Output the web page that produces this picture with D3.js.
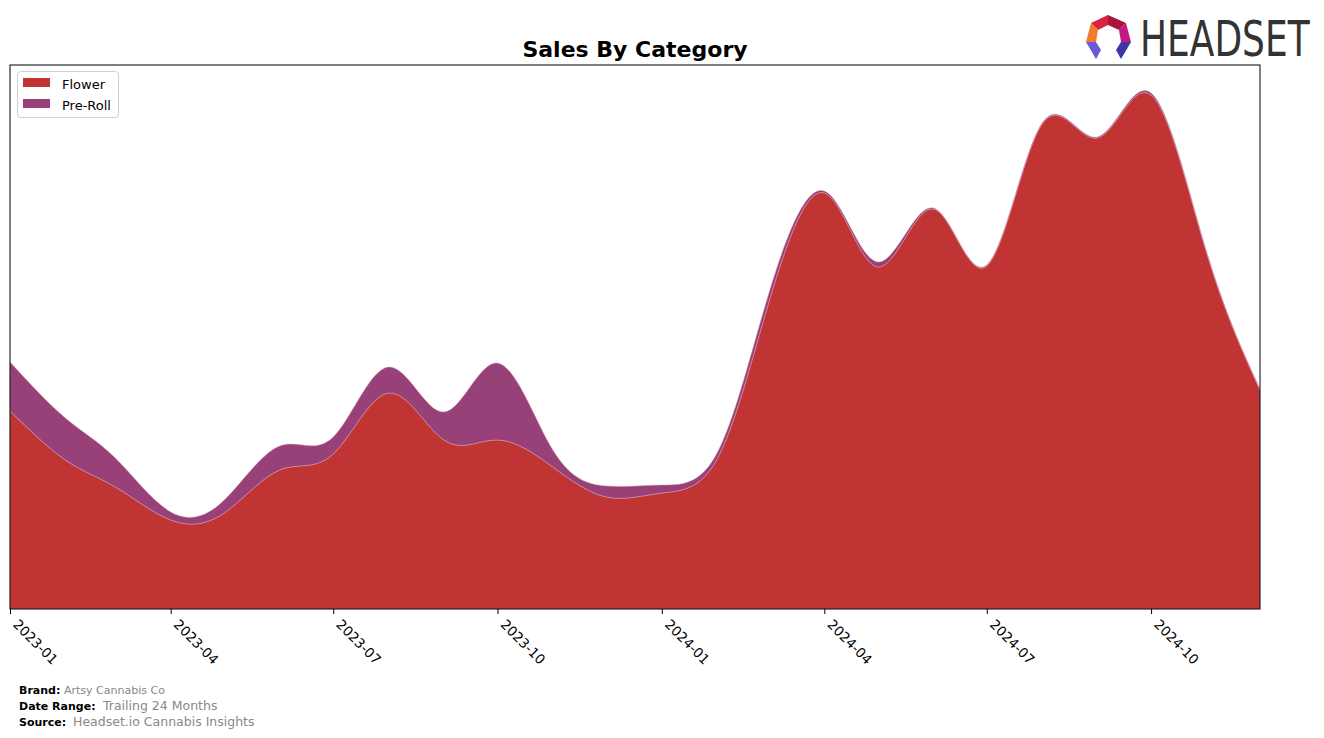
<!DOCTYPE html>
<html><head><meta charset="utf-8">
<script src="https://cdn.jsdelivr.net/npm/d3@7"></script>
<style>body{margin:0;background:#fff;} svg{display:block;font-family:"DejaVu Sans",sans-serif;}</style>
</head><body>
<svg id="chart" width="1324" height="738"></svg>
<script>
const months = ["2023-01","2023-02","2023-03","2023-04","2023-05","2023-06","2023-07","2023-08","2023-09","2023-10","2023-11","2023-12",
                "2024-01","2024-02","2024-03","2024-04","2024-05","2024-06","2024-07","2024-08","2024-09","2024-10","2024-11","2024-12"];
const flower = [198,149,122,89,96,139,155,216,169,169,142,112,116,150,307,416,342,400,343,485,471,514,357,219];
const preRoll = [49,42,29,8,13,24,17,26,28,77,17,11,8,6,9,2,5,1,1,1,1,2,1,1];
const seriesNames = ["Flower","Pre-Roll"];
const tickLabels = ["2023-01","2023-04","2023-07","2023-10","2024-01","2024-04","2024-07","2024-10"];
const colors = ["#c13434","#984179"];

const svg = d3.select("#chart");
const L = 10, R = 1260, T = 65, B = 609;
const parse = d3.timeParse("%Y-%m");
const rows = months.map((m,i)=>({date:parse(m), "Flower":flower[i], "Pre-Roll":preRoll[i]}));

const x = d3.scaleTime().domain([parse(months[0]), parse(months[months.length-1])]).range([L,R]);
const y = d3.scaleLinear().domain([0,544]).range([B,T]);

const stack = d3.stack().keys(seriesNames);
const layers = stack(rows);
const area = d3.area().x(d=>x(d.data.date)).y0(d=>y(d[0])).y1(d=>y(d[1])).curve(d3.curveNatural);

svg.append("defs").append("clipPath").attr("id","clip").append("rect").attr("x",L).attr("y",T).attr("width",R-L).attr("height",B-T);
const g = svg.append("g").attr("clip-path","url(#clip)");
g.selectAll("path").data(layers).join("path")
  .attr("d",area).attr("fill",(d,i)=>colors[i])
  .attr("stroke","#d9a0b0").attr("stroke-width",0.6).attr("stroke-opacity",0.8);

// frame
svg.append("rect").attr("x",L).attr("y",T).attr("width",R-L).attr("height",B-T)
  .attr("fill","none").attr("stroke","#000").attr("stroke-width",1);

// x axis
const ax = svg.append("g").attr("transform",`translate(0,${B})`)
  .call(d3.axisBottom(x).tickValues(tickLabels.map(parse)).tickFormat(d3.timeFormat("%Y-%m")).tickSize(5).tickSizeOuter(0));
ax.select(".domain").remove();
ax.selectAll("line").attr("stroke","#000");
ax.selectAll("text").attr("font-size",13.5).attr("font-family","DejaVu Sans").attr("fill","#000")
  .attr("text-anchor","start").attr("dy",null).attr("y",null)
  .attr("transform","translate(5,13) rotate(45)").attr("dy","0.35em");

// title
svg.append("text").attr("x",635).attr("y",57).attr("text-anchor","middle")
  .attr("font-size",22).attr("font-weight","bold").text("Sales By Category");

// legend
const lg = svg.append("g");
lg.append("rect").attr("x",17.5).attr("y",71.5).attr("width",101).attr("height",46).attr("rx",3)
  .attr("fill","#fff").attr("stroke","#d0d0d0");
seriesNames.forEach((n,i)=>{
  lg.append("rect").attr("x",23).attr("y",78+i*21).attr("width",27).attr("height",9).attr("fill",colors[i]);
  lg.append("text").attr("x",62).attr("y",89+i*21).attr("font-size",13).text(n);
});

// footer
const foot = [["Brand:","Artsy Cannabis Co",64,11],["Date Range:","Trailing 24 Months",103,12.5],["Source:","Headset.io Cannabis Insights",73,12.5]];
foot.forEach((f,i)=>{
  const yy = 694 + i*16;
  svg.append("text").attr("x",19).attr("y",yy).attr("font-size",11).attr("font-weight","bold").text(f[0]);
  svg.append("text").attr("x",f[2]).attr("y",yy).attr("font-size",f[3]).attr("fill","#888").text(f[1]);
});

// logo
const logo = svg.append("g");
const polys = [
  ["#d8223f",[[1091,23],[1108,15],[1108,25],[1098,30]]],
  ["#a8153e",[[1108,15],[1126,23],[1119,30],[1108,25]]],
  ["#f07c2c",[[1091,23],[1098,30],[1096,42],[1086,42]]],
  ["#c21a84",[[1126,23],[1131,42],[1121,42],[1119,30]]],
  ["#6a5ad8",[[1086,42],[1096,42],[1101,50],[1096,59]]],
  ["#3b36a6",[[1131,42],[1121,42],[1116,50],[1121,59]]]
];
polys.forEach(p=>logo.append("polygon").attr("points",p[1].map(q=>q.join(",")).join(" ")).attr("fill",p[0]));
const lt = logo.append("g").attr("transform","translate(1140,56) scale(0.72,1)");
lt.append("text").attr("x",0).attr("y",0).attr("font-family","DejaVu Sans").attr("font-size",50)
  .attr("fill","#333").text("HEADSET");
</script>
</body></html>
